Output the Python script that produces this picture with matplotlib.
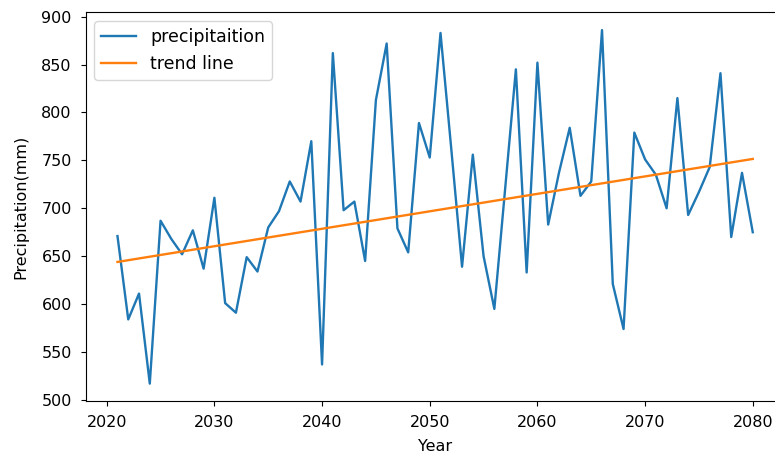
import numpy as np
import matplotlib
matplotlib.use("Agg")
import matplotlib.pyplot as plt

# yearly precipitation
years = np.arange(2021, 2081)
precip = [671, 584, 611, 517, 687, 668, 652, 677, 637, 711,
          601, 591, 649, 634, 680, 697, 728, 707, 770, 537,
          862, 698, 707, 645, 813, 872, 679, 654, 789, 753,
          883, 762, 639, 756, 650, 595, 720, 845, 633, 852,
          683, 737, 784, 713, 728, 886, 621, 574, 779, 751,
          735, 700, 815, 693, 717, 743, 841, 670, 737, 675]

# linear trend endpoints
trend_years = [2021, 2080]
trend_values = [644, 751.5]

plt.rcParams["font.size"] = 11.5

fig = plt.figure(figsize=(7.75, 4.61), dpi=100)
# right spine falls just outside the cropped reference image
ax = fig.add_axes([0.1106, 0.1293, 0.9017, 0.8438])

ax.plot(years, precip, color="#1f77b4", linewidth=1.7, label="precipitaition")
ax.plot(trend_years, trend_values, color="#ff7f0e", linewidth=1.7, label="trend line")

ax.set_xlim(2018.05, 2082.95)
ax.set_ylim(498.45, 904.45)
ax.set_xticks([2020, 2030, 2040, 2050, 2060, 2070, 2080])
ax.set_yticks(range(500, 901, 50))
ax.tick_params(axis="y", pad=6.5)
ax.tick_params(axis="x", pad=6)

ax.set_xlabel("Year", labelpad=7)
ax.set_ylabel("Precipitation(mm)", labelpad=9)
ax.legend(loc="upper left", fontsize=12.5)

fig.savefig("out.png", dpi=100)
